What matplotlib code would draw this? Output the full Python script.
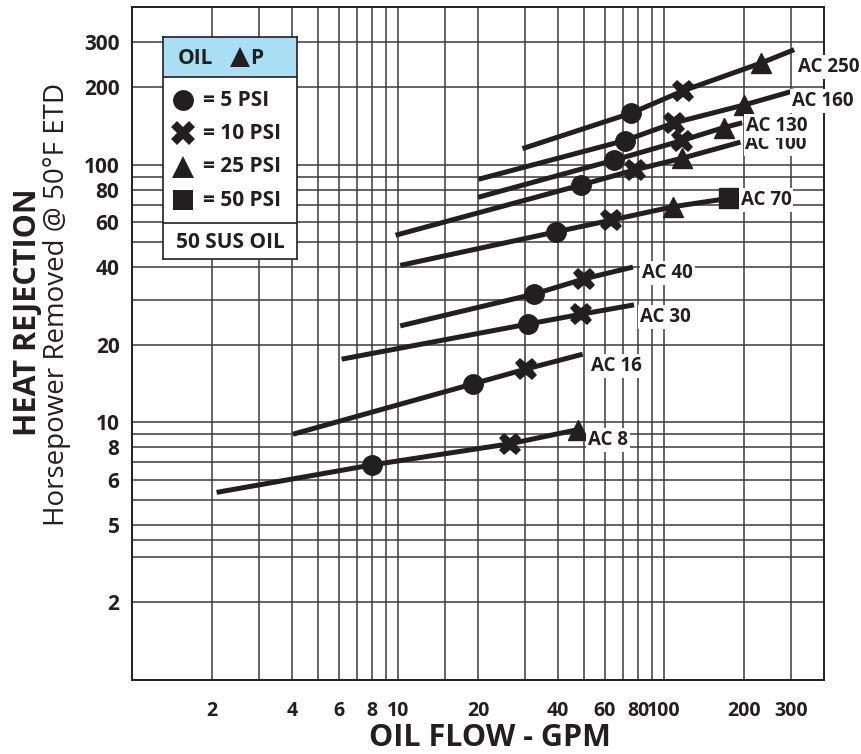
import numpy as np
import matplotlib
matplotlib.use("Agg")
import matplotlib.pyplot as plt
from matplotlib.ticker import NullLocator, FixedLocator, FixedFormatter
from matplotlib.patches import Rectangle

plt.rcParams['font.family'] = ['Open Sans', 'DejaVu Sans']

# cooler models, lines (oil flow GPM, heat rejection HP)
models = ['AC 8', 'AC 16', 'AC 30', 'AC 40', 'AC 70', 'AC 100', 'AC 130', 'AC 160', 'AC 250']
start_flow = [2.08, 4.03, 6.14, 10.2, 10.2, 9.8, 20.0, 20.1, 29.4]
start_hp = [5.35, 9.0, 17.6, 23.7, 40.7, 53.3, 74.8, 87.9, 115.6]
end_flow = [47.4, 49.5, 77.2, 76.5, 175.0, 194.0, 197.0, 309.0, 309.0]
end_hp = [9.37, 18.4, 28.6, 40.1, 74.1, 122.5, 145.6, 194.0, 280.0]

# points at each pressure drop (nan = no marker)
nan = np.nan
psi5_flow = [8.0, 19.1, 30.9, 32.5, 39.2, 48.8, 65.2, 71.2, 75.4]
psi5_hp = [6.84, 14.1, 24.1, 31.5, 54.9, 83.5, 104.4, 124.2, 158.8]
psi10_flow = [26.3, 30.2, 48.8, 50.2, 63.4, 77.7, 116.7, 109.4, 118.3]
psi10_hp = [8.26, 16.1, 26.3, 36.1, 61.0, 95.6, 124.2, 145.6, 194.0]
psi25_flow = [47.4, nan, nan, nan, 108.4, 116.7, 167.7, 199.7, 231.0]
psi25_hp = [9.37, nan, nan, nan, 68.8, 106.0, 139.5, 170.6, 248.0]
psi50_flow = [nan, nan, nan, nan, 175.0, nan, nan, nan, nan]
psi50_hp = [nan, nan, nan, nan, 74.1, nan, nan, nan, nan]

x_ticks = [2, 4, 6, 8, 10, 20, 40, 60, 80, 100, 200, 300]
x_labels = ['2', '4', '6', '8', '10', '20', '40', '60', '80', '100', '200', '300']
y_ticks = [2, 4, 6, 8, 10, 20, 40, 60, 80, 100, 200, 300]
y_labels = ['2', '5', '6', '8', '10', '20', '40', '60', '80', '100', '200', '300']
x_grid = [2, 3, 4, 5, 6, 7, 8, 9, 10, 15, 20, 30, 40, 50, 60, 70, 80, 90, 100, 200, 300]
y_grid = [2, 3, 3.5, 4, 5, 6, 7, 8, 9, 10, 20, 30, 40, 50, 60, 70, 80, 90, 100, 200, 300]

# label offsets from line end, in pixels (dx, dy)
label_offsets = [(10, -10), (8, -12), (6, -12), (9, -6), (12, -2), (5, -2), (4, -3), (-2, -10), (4, -17)]

ink = '#231f20'
grid_col = '#3c3c3c'

fig = plt.figure(figsize=(8.61, 7.54), dpi=100)
ax = fig.add_axes([132 / 861, 1 - 680 / 754, 692 / 861, 673 / 754])
ax.set_xscale('log')
ax.set_yscale('log')
ax.set_xlim(1, 400)
ax.set_ylim(1, 410)

for gx in x_grid:
    ax.axvline(gx, color=grid_col, lw=1.1, zorder=1)
for gy in y_grid:
    ax.axhline(gy, color=grid_col, lw=1.1, zorder=1)

# lines and markers
for i, name in enumerate(models):
    fx = [start_flow[i], psi5_flow[i], psi10_flow[i], psi25_flow[i], psi50_flow[i], end_flow[i]]
    fy = [start_hp[i], psi5_hp[i], psi10_hp[i], psi25_hp[i], psi50_hp[i], end_hp[i]]
    pts = sorted([(a, b) for a, b in zip(fx, fy) if not np.isnan(a)])
    ax.plot([p[0] for p in pts], [p[1] for p in pts], color=ink, lw=3.6,
            solid_capstyle='butt', zorder=3)
    dx, dy = label_offsets[i]
    ax.annotate(name, xy=(end_flow[i], end_hp[i]), xytext=(dx, dy),
                textcoords='offset pixels', ha='left', va='center',
                fontsize=13.5, fontweight='bold', color=ink, zorder=5,
                bbox=dict(boxstyle='square,pad=0.1', fc='white', ec='none'))

ax.plot(psi5_flow, psi5_hp, 'o', color=ink, ms=14, ls='none', zorder=4)
ax.plot(psi10_flow, psi10_hp, 'X', color=ink, ms=16, ls='none', mew=0, zorder=4)
ax.plot(psi25_flow, psi25_hp, '^', color=ink, ms=15, ls='none', zorder=4)
ax.plot(psi50_flow, psi50_hp, 's', color=ink, ms=14, ls='none', zorder=4)

ax.xaxis.set_major_locator(FixedLocator(x_ticks))
ax.xaxis.set_major_formatter(FixedFormatter(x_labels))
ax.yaxis.set_major_locator(FixedLocator(y_ticks))
ax.yaxis.set_major_formatter(FixedFormatter(y_labels))
ax.xaxis.set_minor_locator(NullLocator())
ax.yaxis.set_minor_locator(NullLocator())
ax.tick_params(axis='x', length=0, pad=15, labelsize=14, colors=ink)
ax.tick_params(axis='y', length=0, pad=9, labelsize=15, colors=ink)
for lab in ax.get_xticklabels() + ax.get_yticklabels():
    lab.set_fontweight('bold')
for s in ax.spines.values():
    s.set_color(ink)
    s.set_linewidth(1.4)

fig.text(490 / 861, 1 - 753 / 754, 'OIL FLOW - GPM', ha='center', va='bottom',
         fontsize=22, fontweight='bold', color=ink)
fig.text(28 / 861, 1 - 312 / 754, 'HEAT REJECTION', ha='center', va='center',
         rotation=90, fontsize=22, fontweight='bold', color=ink)
fig.text(57 / 861, 1 - 304 / 754, 'Horsepower Removed @ 50°F ETD', ha='center',
         va='center', rotation=90, fontsize=20, color=ink)

# legend box
lg = fig.add_axes([163 / 861, 1 - 259 / 754, 134 / 861, 222 / 754])
lg.set_xlim(0, 134)
lg.set_ylim(222, 0)
lg.set_xticks([])
lg.set_yticks([])
lg.set_facecolor('white')
for s in lg.spines.values():
    s.set_color(ink)
    s.set_linewidth(1.2)
lg.add_patch(Rectangle((0, 0), 134, 40, fc='#a9def4', ec='none'))
lg.axhline(40, color=ink, lw=1.2)
lg.axhline(186, color=ink, lw=1.2)
lg.text(15, 21, 'OIL', ha='left', va='center', fontsize=15, fontweight='bold', color=ink)
lg.plot([77], [20], '^', color=ink, ms=15, mew=0)
lg.text(87, 21, 'P', ha='left', va='center', fontsize=15, fontweight='bold', color=ink)
legend_rows = [('o', 15, '= 5 PSI'), ('X', 17, '= 10 PSI'), ('^', 16, '= 25 PSI'), ('s', 15, '= 50 PSI')]
for k, (mk, sz, txt) in enumerate(legend_rows):
    yy = 63 + k * 33.5
    lg.plot([20], [yy], mk, color=ink, ms=sz, mew=0)
    lg.text(40, yy, txt, ha='left', va='center', fontsize=15, fontweight='bold', color=ink)
lg.text(67, 205, '50 SUS OIL', ha='center', va='center', fontsize=15,
        fontweight='bold', color=ink)

fig.savefig('out.png', dpi=100)
